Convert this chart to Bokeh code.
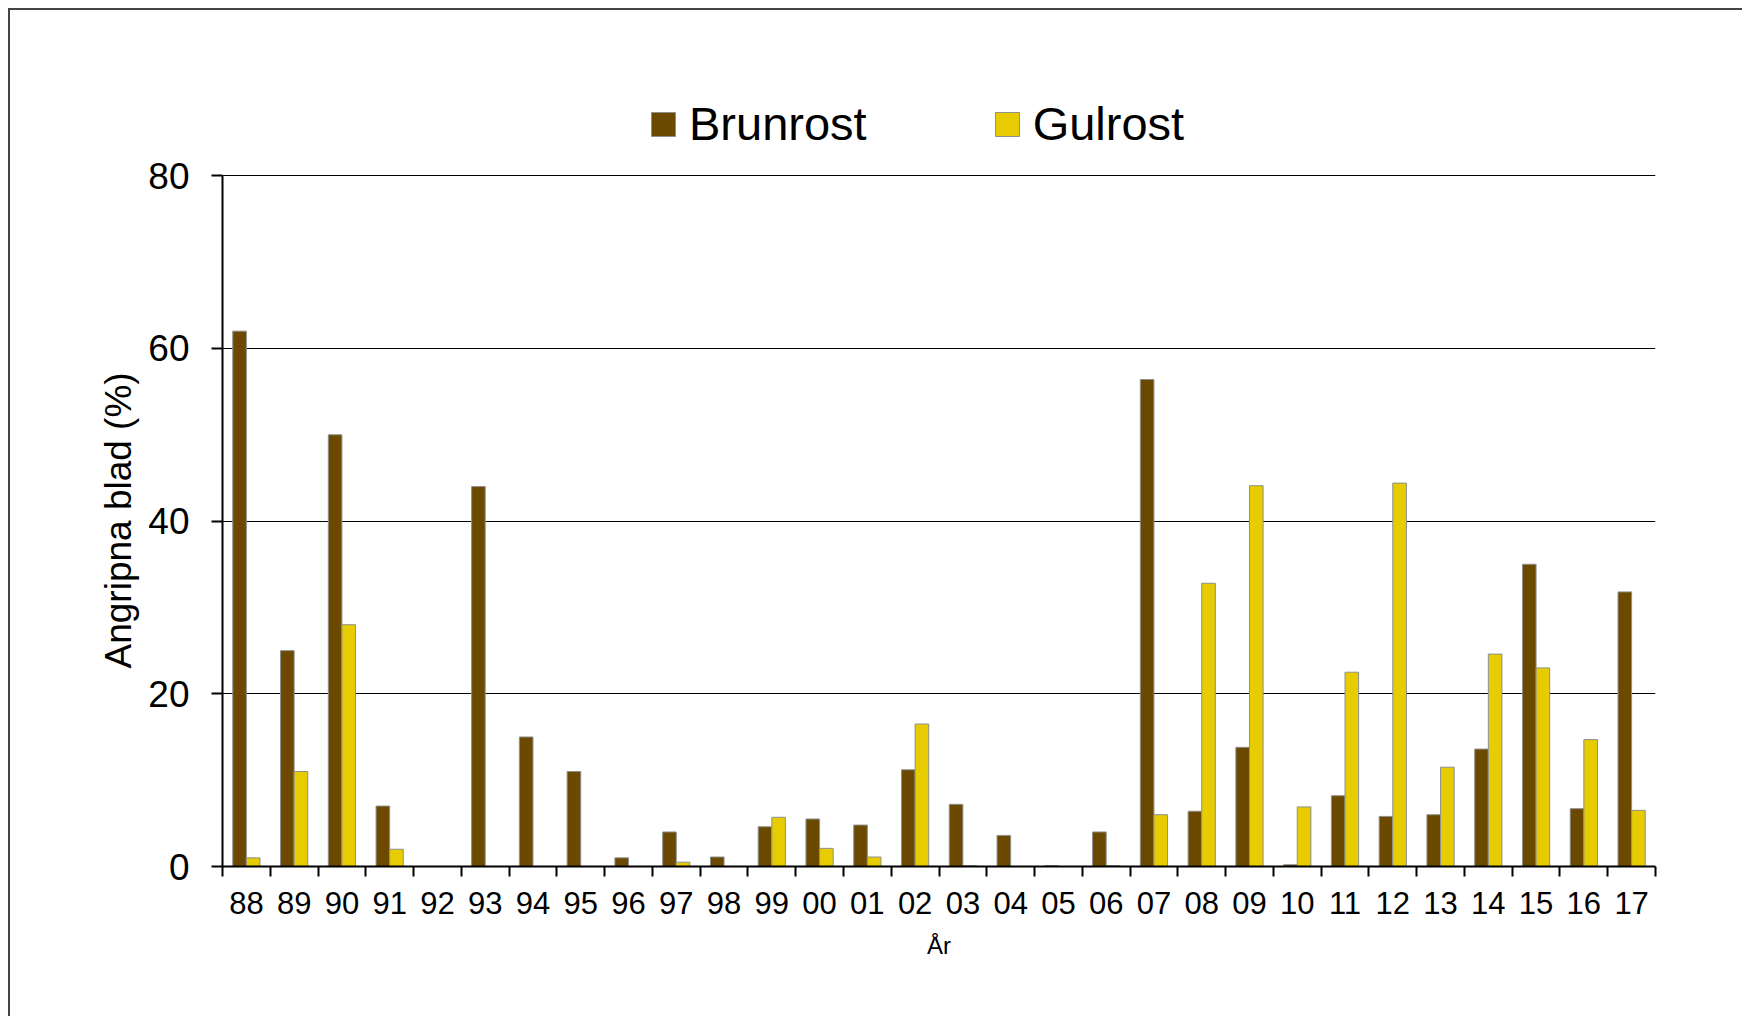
from bokeh.plotting import figure
from bokeh.models import (FixedTicker, Legend, LegendItem, ColumnDataSource, Range1d,
                          CustomJSTickFormatter, Title)
from bokeh.embed import file_html
from bokeh.resources import INLINE

# ---- data ----
years = ["88", "89", "90", "91", "92", "93", "94", "95", "96", "97",
         "98", "99", "00", "01", "02", "03", "04", "05", "06", "07",
         "08", "09", "10", "11", "12", "13", "14", "15", "16", "17"]
brunrost = [62.0, 25.0, 50.0, 7.0, 0.0, 44.0, 15.0, 11.0, 1.0, 4.0,
            1.1, 4.6, 5.5, 4.8, 11.2, 7.2, 3.6, 0.1, 4.0, 56.4,
            6.4, 13.8, 0.2, 8.2, 5.8, 6.0, 13.6, 35.0, 6.7, 31.8]
gulrost = [1.0, 11.0, 28.0, 2.0, 0.0, 0.0, 0.0, 0.0, 0.0, 0.5,
           0.0, 5.7, 2.1, 1.1, 16.5, 0.1, 0.0, 0.0, 0.1, 6.0,
           32.8, 44.1, 6.9, 22.5, 44.4, 11.5, 24.6, 23.0, 14.7, 6.5]
y_ticks = [0, 20, 40, 60, 80]
series_names = ["Brunrost", "Gulrost"]
y_title = "Angripna blad (%)"
x_title = "År"

BROWN = "#6B4A00"
YELLOW = "#E6CC00"
FONT = "Liberation Sans"

n = len(years)
centers = [i + 0.5 for i in range(n)]
bar_w = 0.285
src = ColumnDataSource(dict(
    x_b=[c - bar_w / 2 for c in centers],
    x_g=[c + bar_w / 2 for c in centers],
    b=brunrost, g=gulrost))

# frame extends above 80 to hold the legend; axis is bounded to 0..80
p = figure(width=1734, height=1008,
           x_range=Range1d(0, n), y_range=Range1d(0, 94.5),
           output_backend="svg", toolbar_location=None,
           min_border_left=212, min_border_right=89,
           min_border_top=40, min_border_bottom=152)
p.styles = {"border-top": "2px solid #444444", "border-left": "2px solid #444444",
            "margin-top": "8px", "margin-left": "8px"}
p.outline_line_color = None
p.background_fill_color = "white"
p.border_fill_color = "white"

r1 = p.vbar(x="x_b", top="b", width=bar_w, source=src,
            fill_color=BROWN, line_color="#8f8f8f", line_width=1)
r2 = p.vbar(x="x_g", top="g", width=bar_w, source=src,
            fill_color=YELLOW, line_color="#8f8f8f", line_width=1)

# x axis: labels at centres, ticks at boundaries (minor ticks)
xa = p.xaxis[0]
xa.ticker = FixedTicker(ticks=centers, minor_ticks=list(range(n + 1)))
xa.formatter = CustomJSTickFormatter(args=dict(labels=years),
                                     code="return labels[Math.floor(tick)];")
xa.major_tick_out = 0
xa.major_tick_in = 0
xa.minor_tick_out = 10
xa.minor_tick_in = 0
xa.minor_tick_line_width = 2
xa.minor_tick_line_color = "black"
xa.axis_line_width = 2
xa.axis_line_color = "black"
xa.major_label_standoff = 15
xa.major_label_text_font = FONT
xa.major_label_text_font_size = "31px"
xa.major_label_text_color = "black"
xa.axis_label = x_title
xa.axis_label_text_font = FONT
xa.axis_label_text_font_size = "24px"
xa.axis_label_text_font_style = "normal"
xa.axis_label_text_color = "black"
xa.axis_label_standoff = 15

ya = p.yaxis[0]
ya.ticker = FixedTicker(ticks=y_ticks)
ya.bounds = (y_ticks[0], y_ticks[-1])
ya.major_tick_out = 11
ya.major_tick_in = 0
ya.major_tick_line_width = 2
ya.major_tick_line_color = "black"
ya.minor_tick_line_color = None
ya.axis_line_width = 2
ya.axis_line_color = "black"
ya.major_label_standoff = 22
ya.major_label_text_font = FONT
ya.major_label_text_font_size = "37px"
ya.major_label_text_color = "black"

# y-axis title centred on the 0..80 span (the frame is taller than the axis)
ytitle = Title(text=y_title, align="left", offset=198, vertical_align="middle",
               text_font=FONT, text_font_size="37px", text_font_style="normal",
               text_color="black", standoff=11)
p.add_layout(ytitle, "left")

p.xgrid.grid_line_color = None
p.ygrid.grid_line_color = "black"
p.ygrid.grid_line_width = 1

legend = Legend(items=[LegendItem(label=series_names[0], renderers=[r1]),
                       LegendItem(label=series_names[1], renderers=[r2])],
                orientation="horizontal", location=(426, 715),
                glyph_width=30, glyph_height=30, label_standoff=11, spacing=125,
                padding=0, margin=0, border_line_color=None,
                background_fill_alpha=0,
                label_text_font=FONT, label_text_font_size="47px",
                label_text_color="black")
p.add_layout(legend)

open("out.html", "w").write(file_html(p, INLINE))
